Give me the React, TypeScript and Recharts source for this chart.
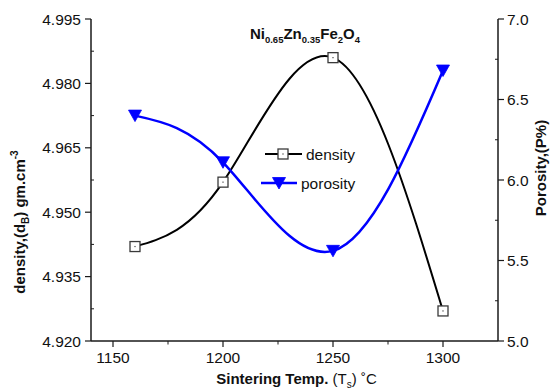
import React from 'react';
import { LineChart, Line, XAxis, YAxis, Legend } from 'recharts';

const temps = [1160, 1200, 1250, 1300];
const density = [4.942, 4.957, 4.986, 4.927];
const porosity = [6.4, 6.11, 5.56, 6.68];

const xTicks = [1150, 1175, 1200, 1225, 1250, 1275, 1300];
const xMajor = [1150, 1200, 1250, 1300];
const leftTicks = [4.92, 4.9275, 4.935, 4.9425, 4.95, 4.9575, 4.965, 4.9725, 4.98, 4.9875, 4.995];
const leftMajor = [4.92, 4.935, 4.95, 4.965, 4.98, 4.995];
const rightTicks = [5.0, 5.25, 5.5, 5.75, 6.0, 6.25, 6.5, 6.75, 7.0];
const rightMajor = [5.0, 5.5, 6.0, 6.5, 7.0];

const data = temps.map((t, i) => ({ t, density: density[i], porosity: porosity[i] }));

const FONT = '"Liberation Sans", Arial, sans-serif';
const AXIS = '#1a1a1a';
const BLUE = '#0000ff';

const isIn = (arr: number[], v: number) => arr.some((a) => Math.abs(a - v) < 1e-6);

const LeftTick = (p: any) => {
  const { x, y, payload } = p;
  const v = payload.value;
  if (isIn(leftMajor, v)) {
    return (
      <g>
        <line x1={x - 6} x2={x} y1={y} y2={y} stroke={AXIS} strokeWidth={1.2} />
        <text x={x - 10} y={y + 5.5} textAnchor="end" fontFamily={FONT} fontSize={15.5} fill="#111">
          {v.toFixed(3)}
        </text>
      </g>
    );
  }
  return <line x1={x} x2={x + 3} y1={y} y2={y} stroke={AXIS} strokeWidth={1} />;
};

const RightTick = (p: any) => {
  const { x, y, payload } = p;
  const v = payload.value;
  if (isIn(rightMajor, v)) {
    return (
      <g>
        <line x1={x} x2={x + 6} y1={y} y2={y} stroke={AXIS} strokeWidth={1.2} />
        <text x={x + 9} y={y + 5.5} textAnchor="start" fontFamily={FONT} fontSize={15.5} fill="#111">
          {v.toFixed(1)}
        </text>
      </g>
    );
  }
  return <line x1={x - 3} x2={x} y1={y} y2={y} stroke={AXIS} strokeWidth={1} />;
};

const BottomTick = (p: any) => {
  const { x, y, payload } = p;
  const v = payload.value;
  if (isIn(xMajor, v)) {
    return (
      <g>
        <line x1={x} x2={x} y1={y} y2={y + 6} stroke={AXIS} strokeWidth={1.2} />
        <text x={x} y={y + 22} textAnchor="middle" fontFamily={FONT} fontSize={15.5} fill="#111">
          {v}
        </text>
      </g>
    );
  }
  return <line x1={x} x2={x} y1={y} y2={y + 3.5} stroke={AXIS} strokeWidth={1} />;
};

const TopTick = (p: any) => {
  const { x, y } = p;
  return <line x1={x} x2={x} y1={y} y2={y + 4} stroke={AXIS} strokeWidth={1} />;
};

const Square = ({ cx, cy }: { cx: number; cy: number }) => (
  <g>
    <rect x={cx - 5} y={cy - 5} width={10} height={10} fill="#fff" stroke="#3a3a3a" strokeWidth={1.3} />
    <rect x={cx - 0.6} y={cy - 0.6} width={1.2} height={1.2} fill="#444" />
  </g>
);

const Tri = ({ cx, cy }: { cx: number; cy: number }) => (
  <polygon points={`${cx - 6.5},${cy - 5.5} ${cx + 6.5},${cy - 5.5} ${cx},${cy + 6}`} fill={BLUE} stroke={BLUE} strokeWidth={0.8} />
);

const SquareDot = (p: any) => <Square key={`s${p.index}`} cx={p.cx} cy={p.cy} />;
const TriDot = (p: any) => <Tri key={`t${p.index}`} cx={p.cx} cy={p.cy} />;

const LeftTitle = (p: any) => {
  const vb = p.viewBox || { x: 0, y: 19, width: 91, height: 322 };
  const cx = vb.x + 25;
  const cy = vb.y + vb.height / 2 + 42;
  return (
    <text
      x={cx}
      y={cy}
      transform={`rotate(-90, ${cx}, ${cy})`}
      textAnchor="middle"
      fontFamily={FONT}
      fontSize={15}
      fontWeight="bold"
      fill="#111"
    >
      density,(d
      <tspan fontSize={10} dy={4}>B</tspan>
      <tspan dy={-4}>) gm.cm</tspan>
      <tspan fontSize={10} dy={-7}>-3</tspan>
    </text>
  );
};

const RightTitle = (p: any) => {
  const vb = p.viewBox || { x: 498, y: 19, width: 56, height: 322 };
  const cx = vb.x + 48;
  const cy = vb.y + vb.height / 2 - 12;
  return (
    <text
      x={cx}
      y={cy}
      transform={`rotate(-90, ${cx}, ${cy})`}
      textAnchor="middle"
      fontFamily={FONT}
      fontSize={15}
      fontWeight="bold"
      fill="#111"
    >
      Porosity,(P%)
    </text>
  );
};

const BottomTitle = (p: any) => {
  const vb = p.viewBox || { x: 91, y: 341, width: 407, height: 48 };
  const cx = vb.x + vb.width / 2 + 2;
  const cy = vb.y + 43;
  return (
    <text x={cx} y={cy} textAnchor="middle" fontFamily={FONT} fontSize={15} fill="#111">
      <tspan fontWeight="bold">Sintering Temp. </tspan>
      <tspan>(T</tspan>
      <tspan fontSize={10} dy={4}>s</tspan>
      <tspan dy={-4}>) ˚C</tspan>
    </text>
  );
};

const LegendContent = () => (
  <svg width={120} height={52} style={{ display: 'block', overflow: 'visible' }}>
    <line x1={7} y1={11} x2={44} y2={11} stroke="#000" strokeWidth={2} />
    <Square cx={25} cy={11} />
    <text x={48} y={16.5} fontFamily={FONT} fontSize={15.5} fill="#111">density</text>
    <line x1={3} y1={40} x2={39} y2={40} stroke={BLUE} strokeWidth={2.5} />
    <Tri cx={21} cy={40} />
    <text x={43} y={45.5} fontFamily={FONT} fontSize={15.5} fill="#111">porosity</text>
  </svg>
);

export default function App() {
  return (
    <div style={{ position: 'absolute', left: 0, top: 0, width: 554, height: 389, background: '#fff' }}>
      <LineChart width={554} height={389} data={data} margin={{ top: 19, right: 0, bottom: 0, left: 0 }}>
        <XAxis
          xAxisId="b"
          dataKey="t"
          type="number"
          domain={[1140, 1325]}
          allowDataOverflow
          ticks={xTicks}
          interval={0}
          height={48}
          tickSize={0}
          tickMargin={0}
          tickLine={false}
          tick={BottomTick}
          axisLine={{ stroke: AXIS, strokeWidth: 1.5 }}
          label={{ content: BottomTitle }}
        />
        <XAxis
          xAxisId="t"
          orientation="top"
          type="number"
          domain={[1140, 1325]}
          allowDataOverflow
          ticks={xTicks}
          interval={0}
          height={0}
          tickSize={0}
          tickMargin={0}
          tickLine={false}
          tick={TopTick}
          axisLine={{ stroke: AXIS, strokeWidth: 1.5 }}
        />
        <YAxis
          yAxisId="l"
          type="number"
          domain={[4.92, 4.995]}
          allowDataOverflow
          ticks={leftTicks}
          interval={0}
          width={91}
          tickSize={0}
          tickMargin={0}
          tickLine={false}
          tick={LeftTick}
          axisLine={{ stroke: AXIS, strokeWidth: 1.5 }}
          label={{ content: LeftTitle }}
        />
        <YAxis
          yAxisId="r"
          orientation="right"
          type="number"
          domain={[5, 7]}
          allowDataOverflow
          ticks={rightTicks}
          interval={0}
          width={56}
          tickSize={0}
          tickMargin={0}
          tickLine={false}
          tick={RightTick}
          axisLine={{ stroke: AXIS, strokeWidth: 1.5 }}
          label={{ content: RightTitle }}
        />
        <Legend
          layout="vertical"
          align="center"
          verticalAlign="middle"
          content={LegendContent}
          wrapperStyle={{ position: 'absolute', left: 258, top: 143, width: 120, height: 52 }}
        />
        <Line
          xAxisId="b"
          yAxisId="l"
          type="natural"
          dataKey="density"
          name="density"
          stroke="#000"
          strokeWidth={2}
          dot={SquareDot}
          activeDot={false}
          isAnimationActive={false}
        />
        <Line
          xAxisId="b"
          yAxisId="r"
          type="natural"
          dataKey="porosity"
          name="porosity"
          stroke={BLUE}
          strokeWidth={2.5}
          dot={TriDot}
          activeDot={false}
          isAnimationActive={false}
        />
      </LineChart>
      <svg width={554} height={60} style={{ position: 'absolute', left: 0, top: 0, pointerEvents: 'none' }}>
        <text x={305} y={39} textAnchor="middle" fontFamily={FONT} fontSize={15} fontWeight="bold" fill="#111">
          Ni<tspan fontSize={9.5} dy={4}>0.65</tspan>
          <tspan dy={-4}>Zn</tspan>
          <tspan fontSize={9.5} dy={4}>0.35</tspan>
          <tspan dy={-4}>Fe</tspan>
          <tspan fontSize={9.5} dy={4}>2</tspan>
          <tspan dy={-4}>O</tspan>
          <tspan fontSize={9.5} dy={4}>4</tspan>
        </text>
      </svg>
    </div>
  );
}
